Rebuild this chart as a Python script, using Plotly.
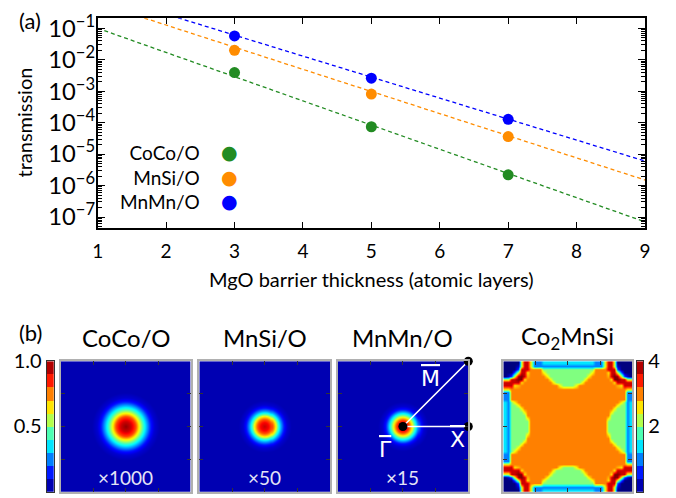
import numpy as np
import plotly.graph_objects as go

# ---------------- data: panel (a) ----------------
layers = [3, 5, 7]
series_names = ["CoCo/O", "MnSi/O", "MnMn/O"]
series_colors = ["#228B22", "#FF8C00", "#0000FF"]
t_coco = [3.9e-3, 7.4e-5, 2.2e-6]
t_mnsi = [2.0e-2, 8.1e-4, 3.6e-5]
t_mnmn = [5.7e-2, 2.6e-3, 1.28e-4]

# exponential fit lines (end points)
fit_x = [1, 9]
fit_coco = [1.0e-1, 7.0e-8]
fit_mnsi = [6.4e-1, 1.5e-6]
fit_mnmn = [1.31, 6.0e-6]

x_ticks = [1, 2, 3, 4, 5, 6, 7, 8, 9]

# ---------------- data: panel (b) ----------------
# radial transmission profiles (normalised) around Gamma
r_coco = [0, 0.04, 0.077, 0.10, 0.13, 0.16, 0.19, 0.22, 0.26, 1.0]
v_coco = [0.98, 0.92, 0.80, 0.64, 0.45, 0.30, 0.15, 0.08, 0.05, 0.05]
r_mnsi = [0, 0.03, 0.055, 0.077, 0.095, 0.115, 0.14, 0.165, 0.20, 1.0]
v_mnsi = [0.93, 0.88, 0.79, 0.64, 0.45, 0.30, 0.15, 0.08, 0.05, 0.05]
r_mnmn = [0, 0.025, 0.05, 0.07, 0.09, 0.11, 0.13, 0.155, 0.19, 1.0]
v_mnmn = [0.98, 0.92, 0.80, 0.64, 0.45, 0.30, 0.15, 0.08, 0.05, 0.05]
scale_labels = ["\u00d71000", "\u00d750", "\u00d715"]

# Co2MnSi: top-left quadrant of the (4mm-symmetric) map, read cell by cell
co2mnsi_quadrant = [
    [0, 0, 0, 0, 0, 2.3, 3.7, 3.7, 2.6, 1.0, 1.0, 1.0, 1.4, 1.4, 1.4, 1.4, 1.4, 1.4, 1.4, 1.4],
    [0, 0, 0, 0, 0.3, 2.3, 3.7, 3.7, 2.6, 1.0, 1.0, 1.0, 1.0, 1.0, 1.0, 1.0, 1.0, 1.0, 1.0, 1.0],
    [0, 0, 0, 0, 0.8, 3.7, 3.7, 3.7, 3, 3, 3, 3, 2, 2, 2, 2, 2, 2, 2, 2],
    [0, 0, 0, 0.8, 2.3, 3.7, 3.7, 2.6, 3, 3, 3, 3, 2.5, 2, 2, 2, 2, 2, 2, 2],
    [0, 0.3, 0.8, 2.3, 3.9, 4.0, 3.7, 2.8, 3, 3, 3, 3, 3, 2.5, 2, 2, 2, 2, 2, 2],
    [2.3, 2.3, 3.7, 3.7, 4.0, 4.0, 2.6, 3, 3, 3, 3, 3, 3, 3, 2.5, 2, 2, 2, 2, 2],
    [3.7, 3.7, 3.7, 3.7, 3.7, 2.6, 3, 3, 3, 3, 3, 3, 3, 3, 3, 2.5, 2, 2, 2, 2],
    [3.7, 3.7, 3.7, 2.6, 2.8, 3, 3, 3, 3, 3, 3, 3, 3, 3, 3, 3, 3, 2.5, 2, 2],
    [2.6, 2.6, 3, 3, 3, 3, 3, 3, 3, 3, 3, 3, 3, 3, 3, 3, 3, 3, 3, 3],
    [1.0, 1.0, 3, 3, 3, 3, 3, 3, 3, 3, 3, 3, 3, 3, 3, 3, 3, 3, 3, 3],
    [1.0, 1.0, 3, 3, 3, 3, 3, 3, 3, 3, 3, 3, 3, 3, 3, 3, 3, 3, 3, 3],
    [1.0, 1.0, 3, 3, 3, 3, 3, 3, 3, 3, 3, 3, 3, 3, 3, 3, 3, 3, 3, 3],
    [1.4, 1.0, 2, 2.5, 3, 3, 3, 3, 3, 3, 3, 3, 3, 3, 3, 3, 3, 3, 3, 3],
    [1.4, 1.0, 2, 2, 2.5, 3, 3, 3, 3, 3, 3, 3, 3, 3, 3, 3, 3, 3, 3, 3],
    [1.4, 1.0, 2, 2, 2, 2.5, 3, 3, 3, 3, 3, 3, 3, 3, 3, 3, 3, 3, 3, 3],
    [1.4, 1.0, 2, 2, 2, 2, 2.5, 3, 3, 3, 3, 3, 3, 3, 3, 3, 3, 3, 3, 3],
    [1.4, 1.0, 2, 2, 2, 2, 2, 3, 3, 3, 3, 3, 3, 3, 3, 3, 3, 3, 3, 3],
    [1.4, 1.0, 2, 2, 2, 2, 2, 2.5, 3, 3, 3, 3, 3, 3, 3, 3, 3, 3, 3, 3],
    [1.4, 1.0, 2, 2, 2, 2, 2, 2, 3, 3, 3, 3, 3, 3, 3, 3, 3, 3, 3, 3],
    [1.4, 1.0, 2, 2, 2, 2, 2, 2, 3, 3, 3, 3, 3, 3, 3, 3, 3, 3, 3, 3],
]

# high-symmetry path in MnMn/O panel: M - Gamma - X
kpath_x = [1.0, 0.5, 1.0]
kpath_y = [1.0, 0.5, 0.5]
kpath_letters = ["M", "\u0393", "X"]

# colour-bar bands
cb_left_levels = [0.05, 0.15, 0.25, 0.35, 0.45, 0.55, 0.65, 0.75, 0.85, 0.95]
cb_right_levels = [0.2, 0.6, 1.0, 1.4, 1.8, 2.2, 2.6, 3.0, 3.4, 3.8]

FONT = "Lato"
jet = [[0, "#00007F"], [0.125, "#0000FF"], [0.375, "#00FFFF"],
       [0.625, "#FFFF00"], [0.875, "#FF0000"], [1, "#7F0000"]]

W, H = 676, 498


def px(x):
    return x / W


def py(y):
    return 1 - y / H


fig = go.Figure()

# ---------------- panel (a) ----------------
fits = [fit_coco, fit_mnsi, fit_mnmn]
points = [t_coco, t_mnsi, t_mnmn]
for name, col, fy in zip(series_names, series_colors, fits):
    fig.add_trace(go.Scatter(x=fit_x, y=fy, mode="lines",
                             line=dict(color=col, width=1.3, dash="4px,3px"),
                             showlegend=False, hoverinfo="skip",
                             xaxis="x", yaxis="y"))
for name, col, pts in zip(series_names, series_colors, points):
    fig.add_trace(go.Scatter(x=layers, y=pts, mode="markers", name=name,
                             marker=dict(color=col, size=11),
                             showlegend=False, xaxis="x", yaxis="y"))

# ---------------- panel (b) heatmaps ----------------
n = 131
g = np.linspace(0, 1, n)
GX, GY = np.meshgrid(g, g)
R = np.hypot(GX - 0.5, GY - 0.5)
blob_maps = [np.interp(R, r_coco, v_coco),
             np.interp(R, r_mnsi, v_mnsi),
             np.interp(R, r_mnmn, v_mnmn)]
for k, zmap in enumerate(blob_maps):
    fig.add_trace(go.Heatmap(x=g, y=g, z=zmap, zmin=0, zmax=1, colorscale=jet,
                             showscale=False, zsmooth="best", hoverinfo="skip",
                             xaxis=f"x{k + 3}", yaxis=f"y{k + 3}"))

q = np.array(co2mnsi_quadrant, dtype=float)
top = np.hstack([q, q[:, ::-1]])
full = np.vstack([top, top[::-1]])
m = full.shape[0]
cc = (np.arange(m) + 0.5) / m
fig.add_trace(go.Heatmap(x=cc, y=cc, z=full, zmin=0, zmax=4, colorscale=jet,
                         showscale=False, zsmooth="best", hoverinfo="skip",
                         xaxis="x6", yaxis="y6"))

# k-path in MnMn/O panel
fig.add_trace(go.Scatter(x=kpath_x, y=kpath_y, mode="lines",
                         line=dict(color="white", width=1.6),
                         showlegend=False, hoverinfo="skip",
                         xaxis="x5", yaxis="y5"))
fig.add_trace(go.Scatter(x=kpath_x, y=kpath_y, mode="markers",
                         marker=dict(color="black", size=9),
                         cliponaxis=False, showlegend=False, hoverinfo="skip",
                         xaxis="x5", yaxis="y5"))

# colour bars drawn as banded heatmaps
fig.add_trace(go.Heatmap(x=[0], y=cb_left_levels, z=[[v] for v in cb_left_levels],
                         zmin=0, zmax=1, colorscale=jet, showscale=False,
                         hoverinfo="skip", xaxis="x2", yaxis="y2"))
fig.add_trace(go.Heatmap(x=[0], y=cb_right_levels, z=[[v] for v in cb_right_levels],
                         zmin=0, zmax=4, colorscale=jet, showscale=False,
                         hoverinfo="skip", xaxis="x7", yaxis="y7"))

# ---------------- layout ----------------
ydom_a = [py(227.5), py(18.3)]
xdom_a = [px(97.7), px(645)]
ydom_b = [py(491.7), py(361.2)]
panel_x = [[px(60.5), px(190.7)], [px(199.3), px(330.2)],
           [px(337.5), px(468.3)], [px(503.3), px(632.3)]]

layout = dict(
    width=W, height=H, autosize=False,
    margin=dict(l=0, r=0, t=0, b=0, pad=0, autoexpand=False),
    paper_bgcolor="white", plot_bgcolor="white",
    font=dict(family=FONT, size=19, color="black"),
    showlegend=False,
    xaxis=dict(domain=xdom_a, range=[1, 9], tickvals=x_ticks, automargin=False,
               ticks="inside", ticklen=6, tickwidth=1.2, tickcolor="black",
               showline=True, linecolor="black", linewidth=1.6, mirror="ticks",
               showgrid=False, zeroline=False, anchor="y",
               ticklabelstandoff=6, tickfont=dict(size=19)),
    yaxis=dict(domain=ydom_a, type="log", range=[-7.334, -0.682], dtick=1,
               exponentformat="power", showexponent="all", automargin=False,
               ticks="inside", ticklen=7, tickwidth=1.2, tickcolor="black",
               minor=dict(ticks="inside", ticklen=4, tickwidth=1, tickcolor="black",
                          showgrid=False),
               showline=True, linecolor="black", linewidth=1.6, mirror="ticks",
               showgrid=False, zeroline=False, anchor="x",
               ticklabelstandoff=-3, tickfont=dict(size=19)),
)

# colour bar axes
layout["xaxis2"] = dict(domain=[px(46.7), px(54)], range=[-0.5, 0.5], automargin=False,
                        showticklabels=False, ticks="", showgrid=False, zeroline=False,
                        showline=True, linecolor="#333", linewidth=1, mirror=True,
                        anchor="y2")
layout["yaxis2"] = dict(domain=ydom_b, range=[0, 1], tickvals=[0, 0.5, 1],
                        ticktext=["0.0", "0.5", "1.0"], ticks="", side="left",
                        automargin=False,
                        tickfont=dict(size=20), showgrid=False, zeroline=False,
                        showline=True, linecolor="#333", linewidth=1, mirror=True,
                        anchor="x2")
layout["xaxis7"] = dict(domain=[px(636.5), px(643.3)], range=[-0.5, 0.5], automargin=False,
                        showticklabels=False, ticks="", showgrid=False, zeroline=False,
                        showline=True, linecolor="#333", linewidth=1, mirror=True,
                        anchor="y7")
layout["yaxis7"] = dict(domain=ydom_b, range=[0, 4], tickvals=[0, 2, 4],
                        ticks="", side="right", automargin=False,
                        tickfont=dict(size=20), showgrid=False, zeroline=False,
                        showline=True, linecolor="#333", linewidth=1, mirror=True,
                        anchor="x7")

for k in range(4):
    ax = k + 3
    common = dict(range=[0, 1], tickvals=[0.25, 0.5, 0.75], showticklabels=False,
                  ticks="inside", ticklen=4, tickwidth=1, tickcolor="#333",
                  showline=True, linecolor="#B0B0B0", linewidth=2, mirror="ticks",
                  showgrid=False, zeroline=False, automargin=False)
    layout[f"xaxis{ax}"] = dict(domain=panel_x[k], anchor=f"y{ax}", **common)
    layout[f"yaxis{ax}"] = dict(domain=ydom_b, anchor=f"x{ax}", **common)

fig.update_layout(**layout)

annotations = []
# axis titles of panel (a)
annotations.append(dict(text="MgO barrier thickness (atomic layers)",
                        x=(xdom_a[0] + xdom_a[1]) / 2, y=py(279), xref="paper",
                        yref="paper", xanchor="center", yanchor="middle",
                        showarrow=False, font=dict(size=20)))
annotations.append(dict(text="transmission", x=px(24), y=py(122.5), xref="paper",
                        yref="paper", xanchor="center", yanchor="middle",
                        textangle=-90, showarrow=False, font=dict(size=20)))
# panel letters
annotations.append(dict(text="(a)", x=px(30), y=py(20), xref="paper", yref="paper",
                        xanchor="center", yanchor="middle",
                        showarrow=False, font=dict(size=22)))
annotations.append(dict(text="(b)", x=px(30), y=py(332), xref="paper", yref="paper",
                        xanchor="center", yanchor="middle",
                        showarrow=False, font=dict(size=22)))
# legend of panel (a): one right-aligned block of names, one block of symbols
legend_mid_y = 176.8
annotations.append(dict(text="<br>".join(series_names), x=px(202), y=py(legend_mid_y),
                        xref="paper", yref="paper", xanchor="right", yanchor="middle",
                        align="right", showarrow=False, font=dict(size=19)))
annotations.append(dict(text="<br>".join(f"<span style='color:{c}'>\u25cf</span>"
                                         for c in series_colors),
                        x=px(229.5), y=py(legend_mid_y), xref="paper", yref="paper",
                        xanchor="center", yanchor="middle", align="center",
                        showarrow=False, font=dict(size=19, family="DejaVu Sans")))
# panel titles
titles = ["CoCo/O", "MnSi/O", "MnMn/O", "Co<sub>2</sub>MnSi"]
for k, t in enumerate(titles):
    cx = (panel_x[k][0] + panel_x[k][1]) / 2
    annotations.append(dict(text=t, x=cx, y=py(337), xref="paper", yref="paper",
                            xanchor="center", yanchor="middle", showarrow=False,
                            font=dict(size=24)))
# scale factors
for k, t in enumerate(scale_labels):
    annotations.append(dict(text=t, x=0.5, y=0.11, xref=f"x{k + 3}", yref=f"y{k + 3}",
                            xanchor="center", yanchor="middle", showarrow=False,
                            font=dict(size=19, color="#E4E4F6")))
# k-point labels (letters with an over-bar)
kl_pos = [(0.71, 0.865), (0.37, 0.32), (0.92, 0.40)]
for lab, (lx, ly) in zip(kpath_letters, kl_pos):
    annotations.append(dict(text=f"<span style='text-decoration:overline'>{lab}</span>",
                            x=lx, y=ly, xref="x5", yref="y5",
                            xanchor="center", yanchor="middle", showarrow=False,
                            font=dict(size=22, color="white", family="DejaVu Sans")))

fig.update_layout(annotations=annotations)
fig.write_html("out.html", config={"displayModeBar": False},
               post_script="document.body.style.margin='0px';")
